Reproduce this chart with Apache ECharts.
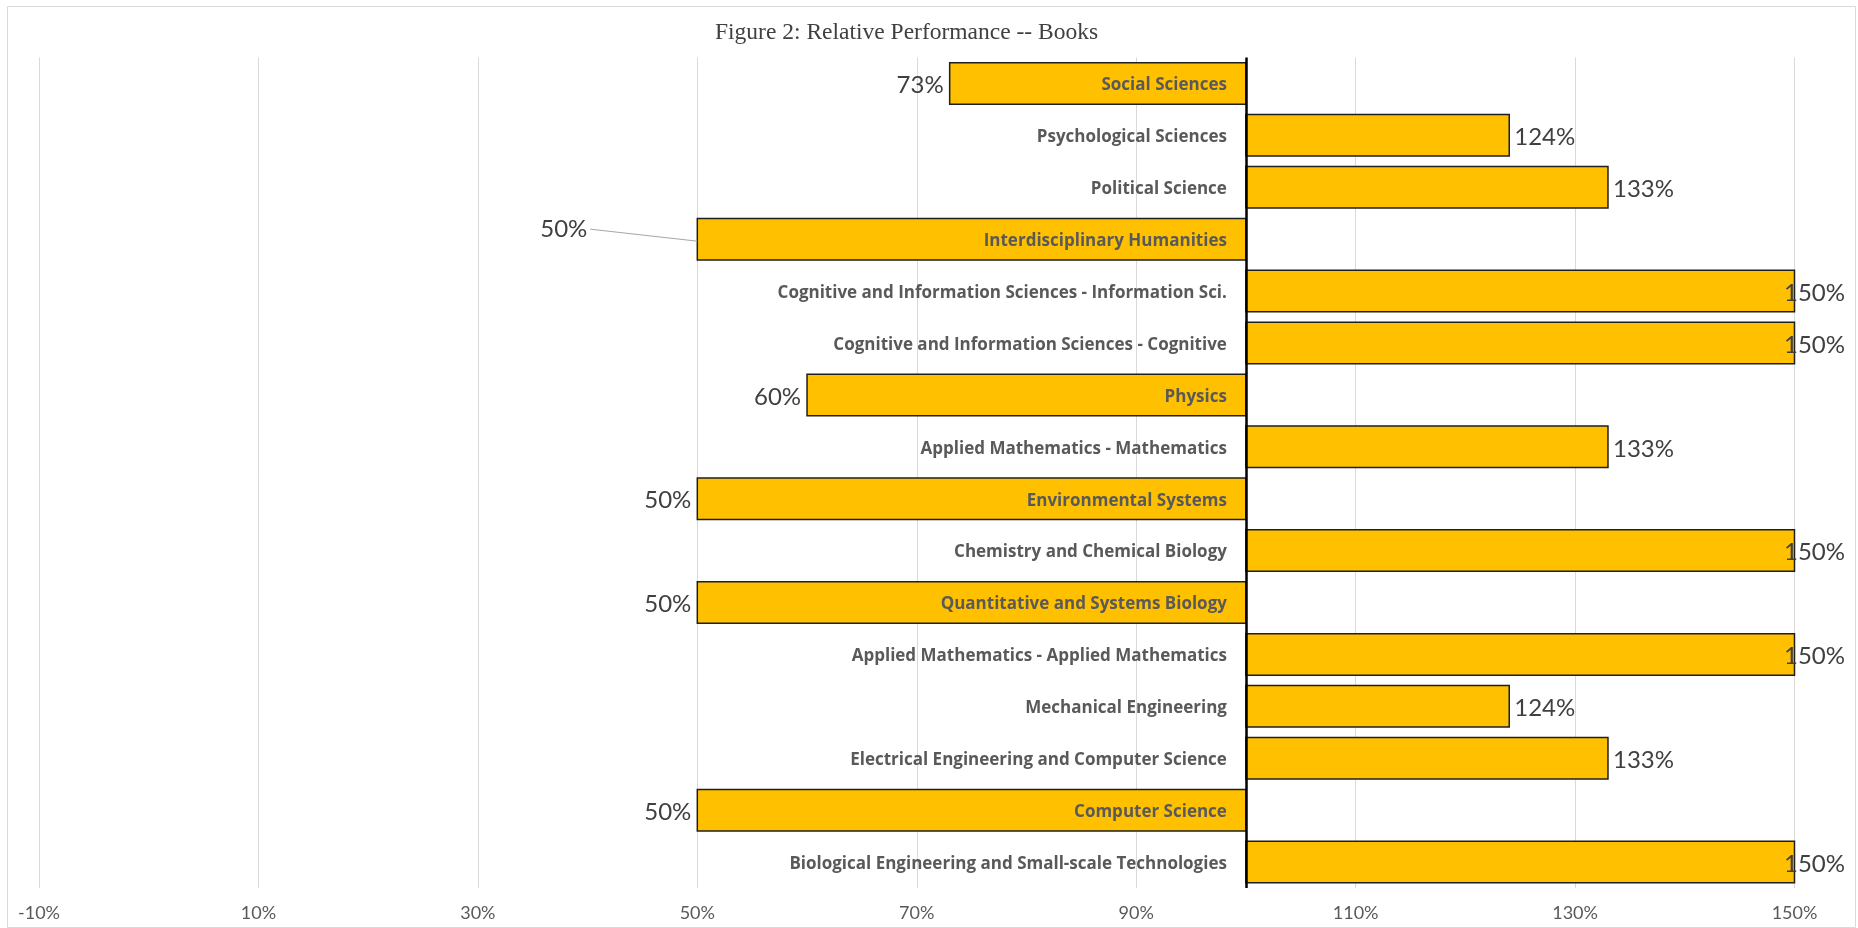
<!DOCTYPE html>
<html>
<head>
<meta charset="utf-8">
<title>Figure 2: Relative Performance -- Books</title>
<script src="https://cdn.jsdelivr.net/npm/echarts@6/dist/echarts.min.js"></script>
<style>
  html, body { margin: 0; padding: 0; background: #fff; }
  #chart { width: 1858px; height: 928px; }
</style>
</head>
<body>
<div id="chart"></div>
<script>
// Departments, top to bottom
const departments = [
  'Social Sciences',
  'Psychological Sciences',
  'Political Science',
  'Interdisciplinary Humanities',
  'Cognitive and Information Sciences - Information Sci.',
  'Cognitive and Information Sciences - Cognitive',
  'Physics',
  'Applied Mathematics - Mathematics',
  'Environmental Systems',
  'Chemistry and Chemical Biology',
  'Quantitative and Systems Biology',
  'Applied Mathematics - Applied Mathematics',
  'Mechanical Engineering',
  'Electrical Engineering and Computer Science',
  'Computer Science',
  'Biological Engineering and Small-scale Technologies'
];

// Relative performance, percent
const performance = [73, 124, 133, 50, 150, 150, 60, 133, 50, 150, 50, 150, 124, 133, 50, 150];

// Reference level the bars grow from
const baseline = 100;

// Axis range and tick step (percent)
const axisMin = -10;
const axisMax = 150;
const axisStep = 20;

const chartTitle = 'Figure 2: Relative Performance -- Books';

// Labels that sit away from their bar, joined by a leader line
const labelNudge = { 'Interdisciplinary Humanities': [-110, -10] };

const valueFont = '24px Lato';
const catFont = 'bold 17px "Open Sans"';
const textDrop = 2; // small downward shift so glyphs sit centred on the bar
const measureCtx = document.createElement('canvas').getContext('2d');
function textWidth(str, font) {
  measureCtx.font = font;
  return measureCtx.measureText(str).width;
}

const chart = echarts.init(document.getElementById('chart'), null, { renderer: 'canvas' });

const seriesData = departments.map((d, i) => [i, performance[i]]);

function renderBar(params, api) {
  const idx = api.value(0);
  const v = api.value(1);
  const name = departments[idx];
  const base = api.coord([baseline, idx]);
  const end = api.coord([v, idx]);
  const band = api.size([0, 1])[1];
  const h = band * 0.8;
  const cy = base[1];
  const x0 = Math.min(base[0], end[0]);
  const w = Math.abs(end[0] - base[0]);
  const children = [];

  children.push({
    type: 'rect',
    shape: { x: x0, y: cy - h / 2, width: w, height: h },
    style: { fill: '#FFC000', stroke: '#1f1f1f', lineWidth: 1.5 }
  });

  // department name, right-aligned against the baseline
  children.push({
    type: 'text',
    z2: 5,
    style: {
      text: name, x: base[0] - 19, y: cy + textDrop,
      align: 'right', verticalAlign: 'middle',
      font: catFont, fill: '#595959'
    }
  });

  // value label at the end of the bar
  const label = v + '%';
  const tw = textWidth(label, valueFont);
  let lx, align;
  if (v >= baseline) {
    lx = end[0] + 5;
    const limit = api.getWidth() - 13;
    if (lx + tw > limit) lx = limit - tw;
    align = 'left';
  } else {
    lx = end[0] - 6;
    align = 'right';
  }
  let ly = cy + textDrop;
  const nudge = labelNudge[name];
  if (nudge) {
    lx = end[0] + nudge[0];
    ly = cy + nudge[1];
    children.push({
      type: 'line',
      shape: { x1: lx + 3, y1: ly, x2: end[0], y2: cy + 2 },
      style: { stroke: '#a6a6a6', lineWidth: 1 }
    });
  }
  children.push({
    type: 'text',
    z2: 5,
    style: {
      text: label, x: lx, y: ly,
      align: align, verticalAlign: 'middle',
      font: valueFont, fill: '#404040'
    }
  });

  return { type: 'group', children: children };
}

chart.setOption({
  backgroundColor: '#ffffff',
  animation: false,
  title: {
    text: chartTitle,
    left: 710,
    top: 16,
    textStyle: {
      fontFamily: 'Liberation Serif',
      fontSize: 23.5,
      fontWeight: 'normal',
      color: '#404040'
    }
  },
  graphic: [{
    type: 'rect',
    left: 5, top: 4,
    shape: { width: 1848, height: 921 },
    style: { fill: 'none', stroke: '#d9d9d9', lineWidth: 1 },
    silent: true
  }],
  grid: { left: 39, right: 63.5, top: 57.5, bottom: 40 },
  xAxis: {
    type: 'value',
    min: axisMin,
    max: axisMax,
    interval: axisStep,
    axisLine: { show: false },
    axisTick: { show: false },
    splitLine: { show: true, lineStyle: { color: '#d9d9d9', width: 1 } },
    axisLabel: {
      formatter: '{value}%',
      color: '#595959',
      fontFamily: 'Lato',
      fontSize: 18,
      margin: 16
    }
  },
  yAxis: {
    type: 'category',
    data: departments,
    inverse: true,
    show: false
  },
  series: [{
    type: 'custom',
    clip: false,
    renderItem: renderBar,
    encode: { y: 0, x: 1 },
    data: seriesData,
    markLine: {
      silent: true,
      symbol: 'none',
      label: { show: false },
      lineStyle: { color: '#000000', width: 2.5, type: 'solid' },
      data: [{ xAxis: baseline }],
      z: 10
    }
  }]
});
</script>
</body>
</html>
